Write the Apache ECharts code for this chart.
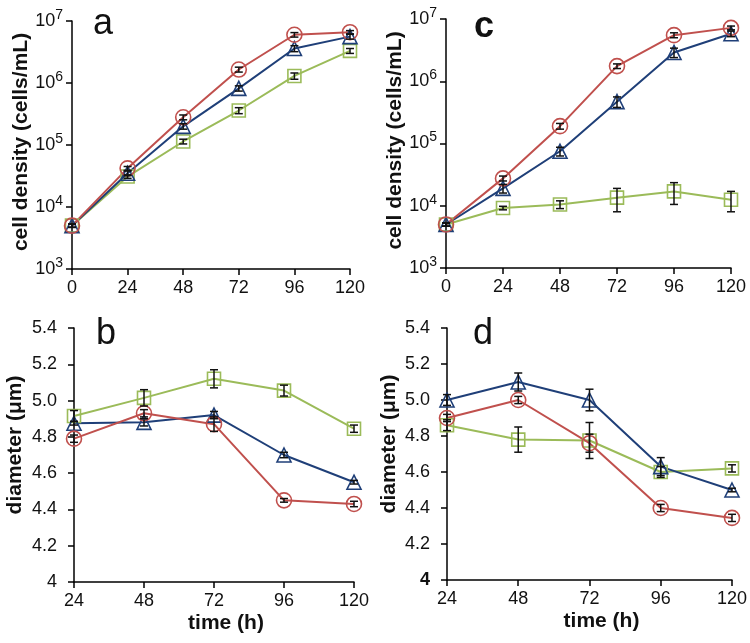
<!DOCTYPE html>
<html><head><meta charset="utf-8">
<script src="https://cdn.jsdelivr.net/npm/echarts@6/dist/echarts.min.js"></script>
<style>html,body{margin:0;padding:0;background:#fff}#c{width:750px;height:643px}</style>
</head><body><div id="c"></div>
<script>
// ---- data ----
var hoursTop = [0, 24, 48, 72, 96, 120];
var hoursBottom = [24, 48, 72, 96, 120];

var aRed = [5000, 42000, 280000, 1650000, 6000000, 6600000];
var aRedErr = [300, 3000, 25000, 150000, 500000, 400000];
var aBlue = [5000, 35000, 200000, 820000, 3600000, 5600000];
var aBlueErr = [300, 3000, 20000, 80000, 400000, 500000];
var aGreen = [5000, 31000, 114000, 360000, 1300000, 3300000];
var aGreenErr = [300, 2000, 10000, 40000, 150000, 300000];

var cRed = [5000, 27500, 190000, 1750000, 5500000, 7200000];
var cRedErr = [300, 2500, 20000, 150000, 500000, 500000];
var cBlue = [5000, 19000, 75000, 470000, 2900000, 5800000];
var cBlueErr = [300, 3000, 12000, 90000, 500000, 600000];
var cGreen = [5000, 9200, 10500, 13500, 17000, 12500];
var cGreenErr = [300, 600, 1500, 5500, 6500, 4500];

var bRed = [4.79, 4.93, 4.87, 4.45, 4.43];
var bRedErr = [0.02, 0.02, 0.04, 0.01, 0.015];
var bBlue = [4.875, 4.88, 4.92, 4.70, 4.55];
var bBlueErr = [0.01, 0.02, 0.02, 0.015, 0.01];
var bGreen = [4.915, 5.015, 5.12, 5.055, 4.845];
var bGreenErr = [0.03, 0.045, 0.05, 0.03, 0.02];

var dRed = [4.90, 5.00, 4.76, 4.40, 4.345];
var dRedErr = [0.02, 0.02, 0.05, 0.02, 0.02];
var dBlue = [5.00, 5.10, 5.00, 4.63, 4.50];
var dBlueErr = [0.03, 0.05, 0.06, 0.05, 0.01];
var dGreen = [4.86, 4.78, 4.775, 4.60, 4.62];
var dGreenErr = [0.03, 0.07, 0.10, 0.03, 0.02];

var panelLetters = ['a', 'b', 'c', 'd'];
var yTitleTop = 'cell density (cells/mL)';
var yTitleBottom = 'diameter (μm)';
var xTitleBottom = 'time (h)';

// ---- styling ----
var RED = '#c0504d', BLUE = '#1f3f78', GREEN = '#9bbb59';
var FONT = 'Liberation Sans, Arial, sans-serif';
var chart = echarts.init(document.getElementById('c'), null, {renderer: 'canvas'});

var grids = [
  {left: 72, top: 21, width: 278, height: 248},
  {left: 74, top: 328, width: 280, height: 254},
  {left: 446, top: 19, width: 285, height: 249},
  {left: 447, top: 328, width: 285, height: 252}
];

function pairs(xs, ys) { return xs.map(function (x, i) { return [x, ys[i]]; }); }
function errPairs(xs, ys, es) { return xs.map(function (x, i) { return [x, ys[i] - es[i], ys[i] + es[i]]; }); }

var axisLine = {show: true, lineStyle: {color: '#000', width: 1.5}};
var axisTick = {show: true, length: 6, lineStyle: {color: '#000', width: 1.5}};

function xAxisFor(gi, top) {
  return {
    type: 'value', gridIndex: gi,
    min: top ? 0 : 24, max: 120, interval: 24,
    axisLine: axisLine, axisTick: axisTick, splitLine: {show: false},
    axisLabel: {color: '#111', fontSize: 18, fontFamily: FONT, margin: 10},
    name: top ? '' : xTitleBottom, nameLocation: 'middle', nameGap: 31,
    nameTextStyle: {color: '#111', fontSize: 21, fontWeight: 'bold', fontFamily: FONT, padding: [0, 0, 0, 24]}
  };
}
function yAxisTop(gi, gap) {
  return {
    type: 'log', logBase: 10, gridIndex: gi, min: 1000, max: 10000000,
    axisLine: axisLine, axisTick: axisTick, splitLine: {show: false}, minorTick: {show: false},
    axisLabel: {
      color: '#111', fontSize: 18, fontFamily: FONT, margin: 9,
      formatter: function (v) { return '10{s|' + Math.round(Math.log10(v)) + '}'; },
      rich: {s: {fontSize: 14, fontFamily: FONT, color: '#111', padding: [0, 0, 12, 0]}}
    },
    name: yTitleTop, nameLocation: 'middle', nameGap: gap,
    nameTextStyle: {color: '#111', fontSize: 21, fontWeight: 'bold', fontFamily: FONT, padding: [0, 0, 0, 6]}
  };
}
function yAxisBottom(gi, boldFour, gap) {
  return {
    type: 'value', gridIndex: gi, min: 4, max: 5.4, interval: 0.2,
    axisLine: axisLine, axisTick: axisTick, splitLine: {show: false},
    axisLabel: {
      color: '#111', fontSize: 18, fontFamily: FONT, margin: 17,
      formatter: function (v) { return Math.abs(v - 4) < 1e-9 ? (boldFour ? '{b|4}' : '4') : v.toFixed(1); },
      rich: {b: {fontSize: 18, fontWeight: 'bold', fontFamily: FONT, color: '#111'}}
    },
    name: yTitleBottom, nameLocation: 'middle', nameGap: gap,
    nameTextStyle: {color: '#111', fontSize: 21, fontWeight: 'bold', fontFamily: FONT, padding: [0, 0, 0, 20]}
  };
}

function lineSeries(ai, xs, ys, color, symbol, size) {
  return {
    type: 'line', xAxisIndex: ai, yAxisIndex: ai, data: pairs(xs, ys),
    symbol: symbol, symbolSize: size, showSymbol: true,
    lineStyle: {color: color, width: 2},
    itemStyle: {color: 'rgba(255,255,255,0)', borderColor: color, borderWidth: 1.6},
    z: 2, animation: false, silent: true
  };
}
function errSeries(ai, xs, ys, es) {
  return {
    type: 'custom', xAxisIndex: ai, yAxisIndex: ai, data: errPairs(xs, ys, es),
    encode: {x: 0, y: [1, 2]}, z: 5, animation: false, silent: true,
    renderItem: function (params, api) {
      var x = api.value(0);
      var lo = api.coord([x, api.value(1)]);
      var hi = api.coord([x, api.value(2)]);
      var w = 4;
      var st = {stroke: '#111', lineWidth: 1.5};
      return {type: 'group', children: [
        {type: 'line', shape: {x1: lo[0], y1: lo[1], x2: hi[0], y2: hi[1]}, style: st},
        {type: 'line', shape: {x1: lo[0] - w, y1: lo[1], x2: lo[0] + w, y2: lo[1]}, style: st},
        {type: 'line', shape: {x1: hi[0] - w, y1: hi[1], x2: hi[0] + w, y2: hi[1]}, style: st}
      ]};
    }
  };
}

function panelSeries(ai, xs, red, redE, blue, blueE, green, greenE) {
  return [
    lineSeries(ai, xs, green, GREEN, 'rect', 13),
    lineSeries(ai, xs, blue, BLUE, 'triangle', 14),
    lineSeries(ai, xs, red, RED, 'circle', 15),
    errSeries(ai, xs, green, greenE),
    errSeries(ai, xs, blue, blueE),
    errSeries(ai, xs, red, redE)
  ];
}

var series = [].concat(
  panelSeries(0, hoursTop, aRed, aRedErr, aBlue, aBlueErr, aGreen, aGreenErr),
  panelSeries(1, hoursBottom, bRed, bRedErr, bBlue, bBlueErr, bGreen, bGreenErr),
  panelSeries(2, hoursTop, cRed, cRedErr, cBlue, cBlueErr, cGreen, cGreenErr),
  panelSeries(3, hoursBottom, dRed, dRedErr, dBlue, dBlueErr, dGreen, dGreenErr)
);

var letterPos = [[93, 6, 'normal'], [96, 316, 'normal'], [474, 9, 'bold'], [473, 316, 'normal']];
var graphics = panelLetters.map(function (t, i) {
  return {type: 'text', left: letterPos[i][0], top: letterPos[i][1],
    style: {text: t, fontSize: 36, fontFamily: FONT, fontWeight: letterPos[i][2], fill: '#111'}};
});

chart.setOption({
  animation: false,
  backgroundColor: '#fff',
  grid: grids,
  xAxis: [xAxisFor(0, true), xAxisFor(1, false), xAxisFor(2, true), xAxisFor(3, false)],
  yAxis: [yAxisTop(0, 38), yAxisBottom(1, false, 48), yAxisTop(2, 37), yAxisBottom(3, true, 47)],
  series: series,
  graphic: graphics
});
</script></body></html>
